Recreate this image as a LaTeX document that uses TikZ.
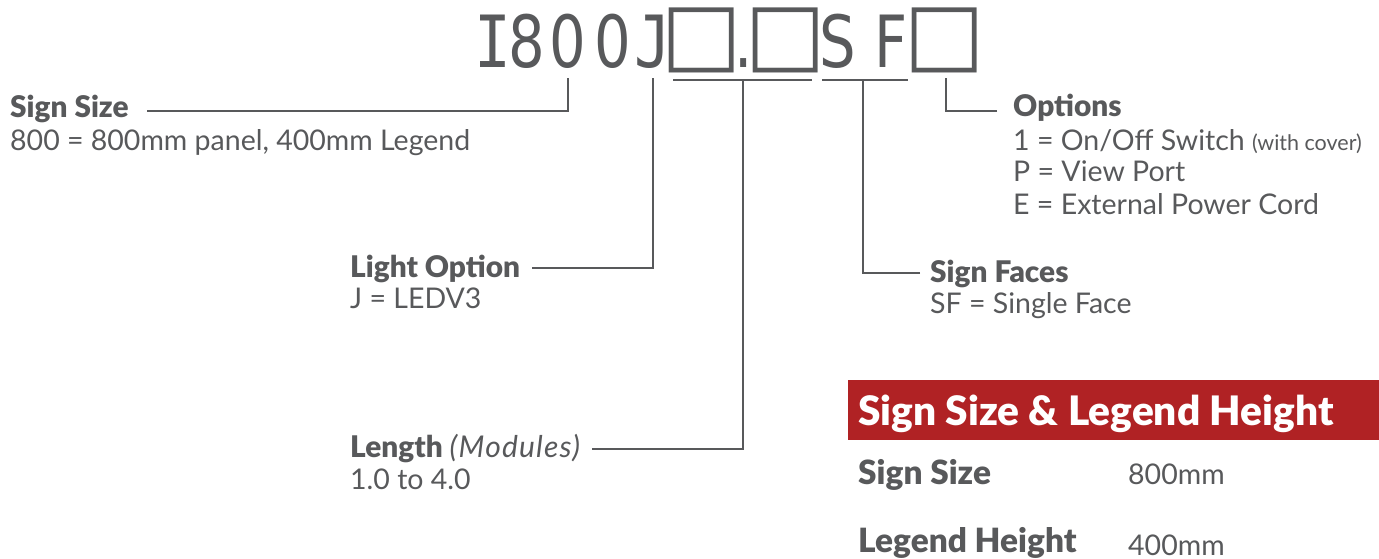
\documentclass[tikz,border=0pt]{standalone}
\usepackage{fontspec}
\setmainfont{Lato}
\newfontfamily\heavy{Lato Black}
\newfontfamily\monof{DejaVu Sans Mono}[FakeStretch=0.85]
\newfontfamily\codef{DejaVu Sans}[FakeStretch=0.8]
\newfontfamily\shapef{DejaVu Sans}
\definecolor{ink}{HTML}{58595B}
\definecolor{brand}{HTML}{B02224}
\begin{document}
\begin{tikzpicture}[x=1pt,y=-1pt,
  lab/.style={anchor=base west,inner sep=0pt,text=ink,font=\heavy\fontsize{29.8}{32}\selectfont},
  txt/.style={anchor=base west,inner sep=0pt,text=ink,font=\fontsize{28.5}{32}\selectfont},
  conn/.style={draw=ink,line width=2.8pt},
  ch/.style={anchor=base,inner sep=0pt,text=ink,font=\codef\fontsize{72}{80}\selectfont},
  chm/.style={ch,font=\monof\fontsize{72}{80}\selectfont},
  bx/.style={anchor=center,inner sep=0pt,text=ink,font=\shapef\fontsize{85}{90}\selectfont},
]
\useasboundingbox (0,0) rectangle (1379,559);
% title code, one glyph per slot
\node[chm] (c1) at (493,68) {I};
\node[ch] (c2) at (527,68) {8};
\node[ch] (c3) at (568,68) {0};
\node[ch] (c4) at (613,68) {0};
\node[chm] (c5) at (653,68) {J};
\node[bx] (c6) at (702,40.5) {\makebox[50pt]{□}};
\node[ch] (c7) at (744,68) {\makebox[8pt]{.}};
\node[bx] (c8) at (786,40.5) {\makebox[50pt]{□}};
\node[ch] (c9) at (838,68) {S};
\node[ch] (c10) at (891,68) {F};
\node[bx] (c11) at (945,40.5) {\makebox[50pt]{□}};
% tick coordinates under the code
\coordinate (tSS) at (568,78);
\coordinate (tLO) at (653,78);
\coordinate (bLa) at (673,80);
\coordinate (bLb) at (812,80);
\coordinate (tLN) at (743,80);
\coordinate (bSa) at (822,80);
\coordinate (bSb) at (908,80);
\coordinate (tSF) at (863,80);
\coordinate (tOP) at (946,78);
% labels
\node[lab] (ss) at (10,118) {Sign Size};
\node[txt] (ssd) at (10,150) {800 = 800mm panel, 400mm Legend};
\node[lab] (lo) at (350,277) {Light Option};
\node[txt] (lod) at (350,308) {J = LEDV3};
\node[lab] (ln) at (350,457) {Length {\rmfamily\itshape\fontsize{30}{32}\selectfont\addfontfeature{LetterSpace=4}(Modules)}};
\node[txt] (lnd) at (350,489) {1.0 to 4.0};
\node[lab] (sf) at (930,282) {Sign Faces};
\node[txt] (sfd) at (930,313) {SF = Single Face};
\node[lab] (op) at (1013,117) {Options};
\node[txt] (op1) at (1013,150) {1 = On/Off Switch {\fontsize{21.5}{24}\selectfont (with cover)}};
\node[txt] (op2) at (1013,182) {P = View Port};
\node[txt] (op3) at (1013,214) {E = External Power Cord};
% connector ends beside labels
\coordinate (eSS) at (147,111);
\coordinate (eLO) at (532,268);
\coordinate (eLN) at (592,449);
\coordinate (eSF) at (920,273);
\coordinate (eOP) at (997,111);
% connectors
\draw[conn] (eSS) -| (tSS);
\draw[conn] (eLO) -| (tLO);
\draw[conn] (bLa) -- (bLb);
\draw[conn] (eLN) -| (tLN);
\draw[conn] (bSa) -- (bSb);
\draw[conn] (eSF) -| (tSF);
\draw[conn] (eOP) -| (tOP);
% table
\node[fill=brand,anchor=north west,inner sep=0pt,minimum width=531pt,minimum height=60pt] (bar) at (848,380) {};
\node[anchor=base west,inner sep=0pt,text=white,font=\heavy\fontsize{40.6}{44}\selectfont] (bart) at (858,425) {Sign Size \& Legend Height};
\node[lab,font=\heavy\fontsize{33.4}{36}\selectfont] (r1) at (858,484) {Sign Size};
\node[txt] (r1v) at (1128,484) {800mm};
\node[lab,font=\heavy\fontsize{33.4}{36}\selectfont] (r2) at (858,552) {Legend Height};
\node[txt] (r2v) at (1128,555) {400mm};
\end{tikzpicture}
\end{document}
